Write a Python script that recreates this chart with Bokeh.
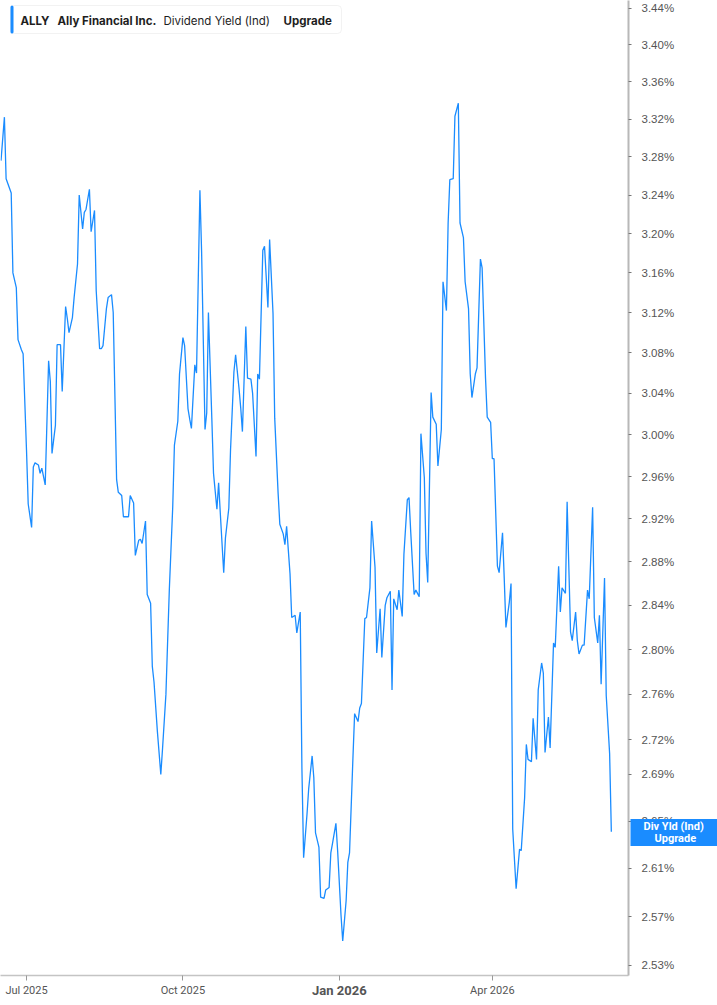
import math
import pandas as pd
from bokeh.plotting import figure
from bokeh.models import (Range1d, FixedTicker, CustomJSTickFormatter, Label,
                          BoxAnnotation, ColumnDataSource, DatetimeAxis, LogAxis)
from bokeh.embed import file_html
from bokeh.resources import INLINE

# ---------------- data ----------------
dates = [
"2025-06-16","2025-06-18","2025-06-19","2025-06-22","2025-06-23","2025-06-25","2025-06-26","2025-06-28","2025-06-29","2025-07-01",
"2025-07-02","2025-07-04","2025-07-05","2025-07-06","2025-07-08","2025-07-09","2025-07-10","2025-07-12","2025-07-14","2025-07-15",
"2025-07-16","2025-07-18","2025-07-19","2025-07-21","2025-07-22","2025-07-24","2025-07-25","2025-07-26","2025-07-28","2025-07-29",
"2025-07-31","2025-08-01","2025-08-03","2025-08-04","2025-08-05","2025-08-07","2025-08-08","2025-08-10","2025-08-11","2025-08-13",
"2025-08-14","2025-08-15","2025-08-17","2025-08-18","2025-08-20","2025-08-21","2025-08-23","2025-08-24","2025-08-26","2025-08-27",
"2025-08-28","2025-08-30","2025-08-31","2025-09-02","2025-09-03","2025-09-05","2025-09-06","2025-09-07","2025-09-09","2025-09-10",
"2025-09-12","2025-09-13","2025-09-14","2025-09-16","2025-09-18","2025-09-19","2025-09-21","2025-09-22","2025-09-23","2025-09-25",
"2025-09-26","2025-09-28","2025-09-29","2025-10-01","2025-10-02","2025-10-04","2025-10-05","2025-10-06","2025-10-08","2025-10-09",
"2025-10-11","2025-10-12","2025-10-14","2025-10-15","2025-10-16","2025-10-18","2025-10-19","2025-10-21","2025-10-22","2025-10-23",
"2025-10-25","2025-10-26","2025-10-28","2025-10-29","2025-10-31","2025-11-01","2025-11-03","2025-11-04","2025-11-05","2025-11-07",
"2025-11-08","2025-11-10","2025-11-11","2025-11-13","2025-11-14","2025-11-15","2025-11-17","2025-11-18","2025-11-20","2025-11-21",
"2025-11-23","2025-11-24","2025-11-26","2025-11-27","2025-11-29","2025-11-30","2025-12-01","2025-12-03","2025-12-04","2025-12-06",
"2025-12-07","2025-12-09","2025-12-10","2025-12-11","2025-12-13","2025-12-14","2025-12-16","2025-12-17","2025-12-18","2025-12-20",
"2025-12-21","2025-12-23","2025-12-24","2025-12-26","2025-12-27","2025-12-28","2025-12-30","2025-12-31","2026-01-02","2026-01-03",
"2026-01-05","2026-01-06","2026-01-07","2026-01-09","2026-01-10","2026-01-12","2026-01-13","2026-01-14","2026-01-16","2026-01-17",
"2026-01-19","2026-01-20","2026-01-22","2026-01-23","2026-01-25","2026-01-26","2026-01-28","2026-01-29","2026-01-31","2026-02-01",
"2026-02-02","2026-02-04","2026-02-05","2026-02-07","2026-02-08","2026-02-10","2026-02-11","2026-02-12","2026-02-14","2026-02-15",
"2026-02-17","2026-02-18","2026-02-20","2026-02-21","2026-02-22","2026-02-24","2026-02-25","2026-02-27","2026-02-28","2026-03-02",
"2026-03-03","2026-03-05","2026-03-06","2026-03-07","2026-03-09","2026-03-10","2026-03-12","2026-03-13","2026-03-15","2026-03-16",
"2026-03-18","2026-03-19","2026-03-20","2026-03-22","2026-03-23","2026-03-25","2026-03-26","2026-03-28","2026-03-29","2026-03-31",
"2026-04-01","2026-04-02","2026-04-04","2026-04-05","2026-04-07","2026-04-08","2026-04-09","2026-04-11","2026-04-12","2026-04-13",
"2026-04-15","2026-04-17","2026-04-18","2026-04-20","2026-04-21","2026-04-22","2026-04-24","2026-04-25","2026-04-27","2026-04-28",
"2026-04-30","2026-05-01","2026-05-02","2026-05-04","2026-05-05","2026-05-07","2026-05-08","2026-05-10","2026-05-11","2026-05-12",
"2026-05-14","2026-05-15","2026-05-17","2026-05-18","2026-05-20","2026-05-21","2026-05-22","2026-05-24","2026-05-25","2026-05-27",
"2026-05-28","2026-05-30","2026-05-31","2026-06-02","2026-06-03","2026-06-04","2026-06-06","2026-06-07","2026-06-09","2026-06-10"]

div_yield = [
3.276, 3.322, 3.257, 3.242, 3.160, 3.145, 3.093, 3.083, 3.079, 2.985,
2.934, 2.912, 2.969, 2.973, 2.971, 2.963, 2.968, 2.952, 3.072, 3.052,
2.982, 3.009, 3.088, 3.088, 3.042, 3.126, 3.114, 3.100, 3.115, 3.135,
3.169, 3.240, 3.205, 3.222, 3.225, 3.246, 3.202, 3.224, 3.142, 3.084,
3.084, 3.087, 3.124, 3.135, 3.138, 3.120, 2.957, 2.945, 2.942, 2.922,
2.922, 2.922, 2.942, 2.935, 2.886, 2.900, 2.901, 2.897, 2.918, 2.850,
2.842, 2.785, 2.771, 2.727, 2.690, 2.712, 2.760, 2.807, 2.854, 2.931,
2.990, 3.013, 3.059, 3.095, 3.087, 3.025, 3.015, 3.006, 3.068, 3.060,
3.245, 3.181, 3.005, 3.021, 3.120, 3.016, 2.963, 2.929, 2.954, 2.925,
2.870, 2.902, 2.930, 2.985, 3.061, 3.078, 3.045, 3.026, 3.003, 3.106,
3.055, 3.054, 3.040, 2.979, 3.059, 3.054, 3.183, 3.187, 3.125, 3.194,
3.119, 3.016, 2.944, 2.915, 2.906, 2.896, 2.913, 2.869, 2.829, 2.831,
2.815, 2.834, 2.695, 2.619, 2.656, 2.678, 2.706, 2.687, 2.640, 2.628,
2.586, 2.585, 2.592, 2.594, 2.623, 2.631, 2.648, 2.625, 2.571, 2.550,
2.583, 2.615, 2.623, 2.704, 2.743, 2.736, 2.748, 2.752, 2.828, 2.829,
2.856, 2.918, 2.875, 2.797, 2.837, 2.793, 2.840, 2.847, 2.853, 2.764,
2.846, 2.836, 2.854, 2.830, 2.887, 2.938, 2.940, 2.908, 2.850, 2.854,
2.848, 3.001, 2.959, 2.888, 2.861, 3.041, 3.017, 3.010, 2.970, 3.005,
3.151, 3.122, 3.211, 3.256, 3.257, 3.323, 3.337, 3.211, 3.196, 3.151,
3.124, 3.059, 3.036, 3.059, 3.065, 3.174, 3.165, 3.055, 3.017, 3.012,
2.977, 2.977, 2.876, 2.870, 2.907, 2.865, 2.820, 2.843, 2.860, 2.643,
2.593, 2.626, 2.625, 2.670, 2.716, 2.703, 2.701, 2.739, 2.703, 2.764,
2.788, 2.779, 2.709, 2.740, 2.713, 2.806, 2.802, 2.876, 2.834, 2.856,
2.851, 2.936, 2.816, 2.808, 2.834, 2.808, 2.796, 2.804, 2.804, 2.854,
2.846, 2.931, 2.829, 2.806, 2.831, 2.769, 2.865, 2.759, 2.708, 2.641]

y_ticks = [3.44, 3.40, 3.36, 3.32, 3.28, 3.24, 3.20, 3.16, 3.12, 3.08, 3.04,
           3.00, 2.96, 2.92, 2.88, 2.84, 2.80, 2.76, 2.72, 2.69, 2.65, 2.61,
           2.57, 2.53]
x_tick_dates = ["2025-07-01", "2025-10-01", "2026-01-01", "2026-04-01"]
x_tick_labels = ["Jul 2025", "Oct 2025", "", "Apr 2026"]
year_tick_date = "2026-01-01"
year_tick_label = "Jan 2026"

ticker_sym = "ALLY"
company = "Ally Financial Inc."
metric = "Dividend Yield (Ind)"
upgrade = "Upgrade"
badge_line1 = "Div Yld (Ind)"
badge_line2 = "Upgrade"

# ---------------- figure ----------------
BLUE = "#1a8cff"
FW, FH = 628, 975
base = pd.Timestamp("2025-07-01")
x_start_ts = (base + pd.Timedelta(hours=-15.3 * 24)).floor("s")
x_end_ts = (base + pd.Timedelta(hours=354.1 * 24)).floor("s")
Y0, Y1 = 2.5218, 3.4488
px_per_log = FH / (math.log(Y1) - math.log(Y0))

src = ColumnDataSource(data=dict(x=pd.to_datetime(dates), y=div_yield))

p = figure(frame_width=FW, frame_height=FH, x_axis_type="datetime",
           y_axis_type="log", y_axis_location="right",
           x_range=Range1d(x_start_ts.to_pydatetime(), x_end_ts.to_pydatetime()),
           y_range=Range1d(Y0, Y1),
           output_backend="svg", toolbar_location=None,
           min_border_left=0, min_border_top=0, min_border_right=89,
           min_border_bottom=30)
p.background_fill_color = "white"
p.border_fill_color = "white"
p.outline_line_color = None
p.xgrid.visible = False
p.ygrid.visible = False

p.line("x", "y", source=src, color=BLUE, line_width=1.3)

# y axis
ya = p.yaxis[0]
ya.ticker = FixedTicker(ticks=y_ticks, minor_ticks=[])
ya.formatter = CustomJSTickFormatter(code="return tick.toFixed(2) + '%';")
ya.axis_line_color = "#b8b8b8"
ya.axis_line_width = 2
ya.major_tick_out = 3
ya.major_tick_in = 0
ya.major_tick_line_color = "#777777"
ya.minor_tick_line_color = None
ya.major_label_standoff = 10
ya.major_label_text_font = "Liberation Sans"
ya.major_label_text_font_size = "11.5px"
ya.major_label_text_color = "#555555"

# badge on the right axis: thick ticks = blue box, tick labels = text
S = 49    # width of the main y-axis panel
W1 = 63   # width of the first badge line
last = div_yield[-1]
v_l1 = last * math.exp(5.5 / px_per_log)
v_l2 = last * math.exp(-6.5 / px_per_log)

ax_badge = LogAxis(ticker=FixedTicker(ticks=[v_l1, v_l2], minor_ticks=[]),
                   formatter=CustomJSTickFormatter(
                       args=dict(first=v_l1, lbl=badge_line1),
                       code="return Math.abs(tick - first) < 1e-9 ? lbl : '';"))
ax_badge.axis_line_color = None
ax_badge.minor_tick_line_color = None
ax_badge.major_tick_in = S - 2
ax_badge.major_tick_out = 89 - S
ax_badge.major_tick_line_color = BLUE
ax_badge.major_tick_line_width = 15
ax_badge.major_label_standoff = 15 - 89
ax_badge.major_label_text_font = "Roboto"
ax_badge.major_label_text_font_size = "11px"
ax_badge.major_label_text_font_style = "bold"
ax_badge.major_label_text_color = "white"
p.add_layout(ax_badge, "right")
badge_size = (89 - S) + (15 - 89) + W1

ax_l2 = LogAxis(ticker=FixedTicker(ticks=[v_l2], minor_ticks=[]),
                formatter=CustomJSTickFormatter(args=dict(lbl=badge_line2),
                                                code="return lbl;"))
ax_l2.axis_line_color = None
ax_l2.major_tick_line_color = None
ax_l2.minor_tick_line_color = None
ax_l2.major_tick_in = 0
ax_l2.major_tick_out = 0
ax_l2.major_label_standoff = 654 - (FW + S + badge_size)
ax_l2.major_label_text_font = "Roboto"
ax_l2.major_label_text_font_size = "11px"
ax_l2.major_label_text_font_style = "bold"
ax_l2.major_label_text_color = "white"
p.add_layout(ax_l2, "right")

# x axis
x_tick_ms = [float(pd.Timestamp(d).value // 10**6) for d in x_tick_dates]
xa = p.xaxis[0]
xa.ticker = FixedTicker(ticks=x_tick_ms, minor_ticks=[])
xa.formatter = CustomJSTickFormatter(
    args=dict(tick_vals=x_tick_ms, tick_names=x_tick_labels),
    code="""
for (let i = 0; i < tick_vals.length; i++) {
  if (Math.abs(tick_vals[i] - tick) < 1000) return tick_names[i];
}
return "";
""")
xa.axis_line_color = "#c4c4c4"
xa.axis_line_width = 1.5
xa.major_tick_out = 5
xa.major_tick_in = 0
xa.major_tick_line_color = "#999999"
xa.minor_tick_line_color = None
xa.major_label_standoff = 3
xa.major_label_text_font = "Roboto"
xa.major_label_text_font_size = "11px"
xa.major_label_text_color = "#555555"

# second, label-only axis carrying the bold year label
jan_ms = float(pd.Timestamp(year_tick_date).value // 10**6)
xa2 = DatetimeAxis(ticker=FixedTicker(ticks=[jan_ms], minor_ticks=[]),
                   formatter=CustomJSTickFormatter(args=dict(lbl=year_tick_label),
                                                   code="return lbl;"))
xa2.axis_line_color = None
xa2.major_tick_line_color = None
xa2.minor_tick_line_color = None
xa2.major_tick_out = 0
xa2.major_tick_in = 0
xa2.major_label_standoff = -17
xa2.major_label_text_font = "Roboto"
xa2.major_label_text_font_size = "13px"
xa2.major_label_text_font_style = "bold"
xa2.major_label_text_color = "#555555"
p.add_layout(xa2, "below")

# header box
p.add_layout(BoxAnnotation(left=10, right=341, bottom=FH - 33, top=FH - 5,
                           left_units="screen", right_units="screen",
                           bottom_units="screen", top_units="screen",
                           fill_color="white", fill_alpha=1.0,
                           line_color="#d4d4d4", line_width=1, border_radius=4))
p.add_layout(BoxAnnotation(left=10, right=13, bottom=FH - 33, top=FH - 5,
                           left_units="screen", right_units="screen",
                           bottom_units="screen", top_units="screen",
                           fill_color=BLUE, fill_alpha=1.0, line_color=None,
                           border_radius=2))
for txt, xx, bold in [(ticker_sym, 20, True), (company, 57, True),
                      (metric, 163, False), (upgrade, 283, True)]:
    p.add_layout(Label(x=xx, y=FH - 20, x_units="screen", y_units="screen",
                       text=txt, text_baseline="middle", text_font="Inter",
                       text_font_size="11.5px",
                       text_font_style="bold" if bold else "normal",
                       text_color="#1e1e1e"))

open("out.html", "w").write(file_html(p, INLINE))
